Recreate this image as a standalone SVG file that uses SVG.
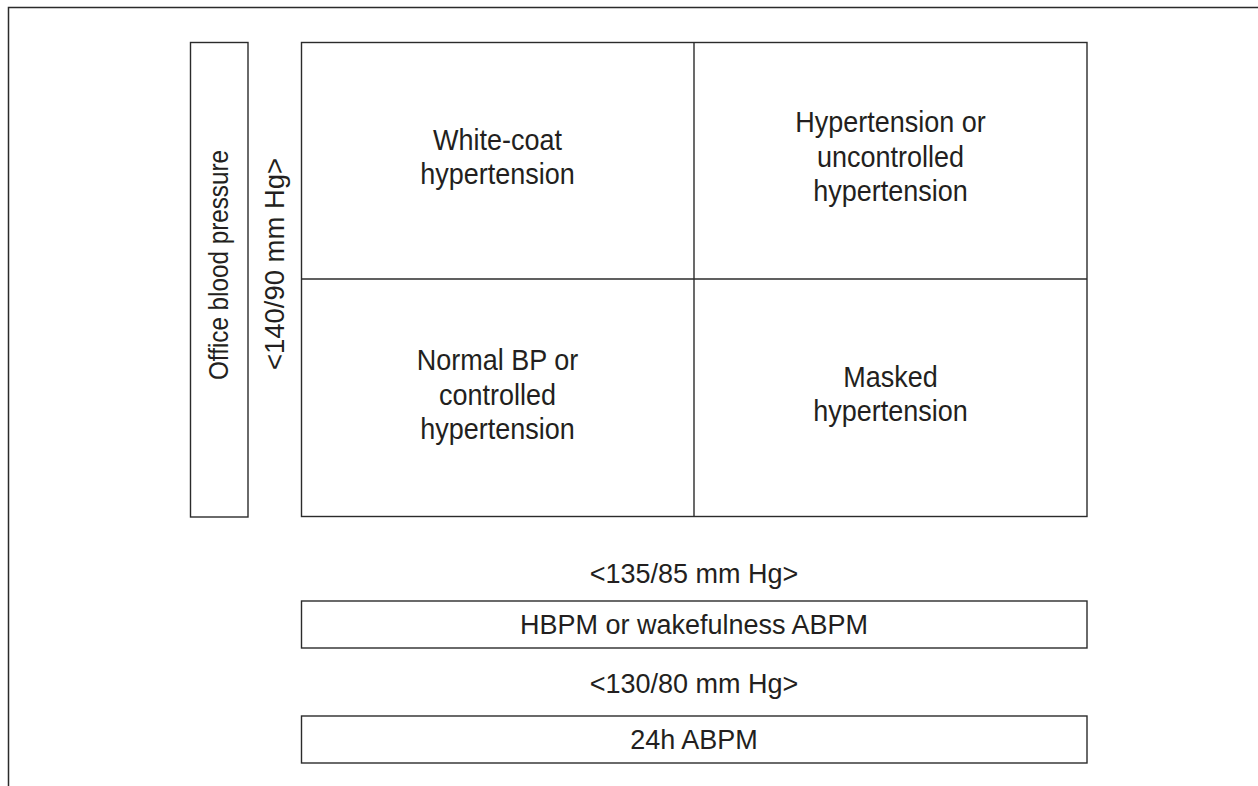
<svg xmlns="http://www.w3.org/2000/svg" width="1258" height="786" viewBox="0 0 1258 786">
<style>
.frame{fill:none;stroke:#2b2b2b;stroke-width:1.5}
.box{fill:#ffffff;stroke:#2b2b2b;stroke-width:1.4}
.div{fill:none;stroke:#2b2b2b;stroke-width:1.4}
.q{font-family:"Liberation Sans",Arial,sans-serif;font-size:30px;fill:#231f20;text-anchor:middle}
.t{font-family:"Liberation Sans",Arial,sans-serif;font-size:27px;fill:#231f20;text-anchor:middle}
.v{font-family:"Liberation Sans",Arial,sans-serif;font-size:28px;fill:#231f20;text-anchor:middle}
</style>
<rect width="1258" height="786" fill="#ffffff"/>
<path class="frame" d="M8.5 786 V7.5 H1258"/>
<g id="office-bp">
<rect class="box" x="190.5" y="42.5" width="57.5" height="474.5"/>
<text class="v" transform="translate(227.5 265) rotate(-90)" x="0" y="0" textLength="230" lengthAdjust="spacingAndGlyphs">Office blood pressure</text>
</g>
<g id="office-threshold">
<text class="v" transform="translate(284 264) rotate(-90)" x="0" y="0" textLength="212" lengthAdjust="spacingAndGlyphs">&lt;140/90 mm Hg&gt;</text>
</g>
<g id="grid">
<rect class="box" x="301.5" y="42.5" width="785.5" height="474"/>
</g>
<g id="connectors">
<line class="div" x1="694" y1="42.5" x2="694" y2="516.5"/>
<line class="div" x1="301.5" y1="279" x2="1087" y2="279"/>
</g>
<g id="white-coat" transform="translate(497.5 0) scale(0.9 1)">
<text class="q" x="0" y="150">White-coat</text>
<text class="q" x="0" y="184.5">hypertension</text>
</g>
<g id="hypertension" transform="translate(890.5 0) scale(0.9 1)">
<text class="q" x="0" y="132.5">Hypertension or</text>
<text class="q" x="0" y="167">uncontrolled</text>
<text class="q" x="0" y="201.5">hypertension</text>
</g>
<g id="normal" transform="translate(497.5 0) scale(0.9 1)">
<text class="q" x="0" y="370.5">Normal BP or</text>
<text class="q" x="0" y="405">controlled</text>
<text class="q" x="0" y="439.5">hypertension</text>
</g>
<g id="masked" transform="translate(890.5 0) scale(0.9 1)">
<text class="q" x="0" y="387">Masked</text>
<text class="q" x="0" y="421.5">hypertension</text>
</g>
<g id="home-threshold">
<text class="t" x="694" y="582.5">&lt;135/85 mm Hg&gt;</text>
</g>
<g id="hbpm">
<rect class="box" x="301.5" y="601" width="785.5" height="47"/>
<text class="t" x="694" y="634">HBPM or wakefulness ABPM</text>
</g>
<g id="abpm-threshold">
<text class="t" x="694" y="693">&lt;130/80 mm Hg&gt;</text>
</g>
<g id="abpm24">
<rect class="box" x="301.5" y="716" width="785.5" height="47"/>
<text class="t" x="694" y="749">24h ABPM</text>
</g>
</svg>
